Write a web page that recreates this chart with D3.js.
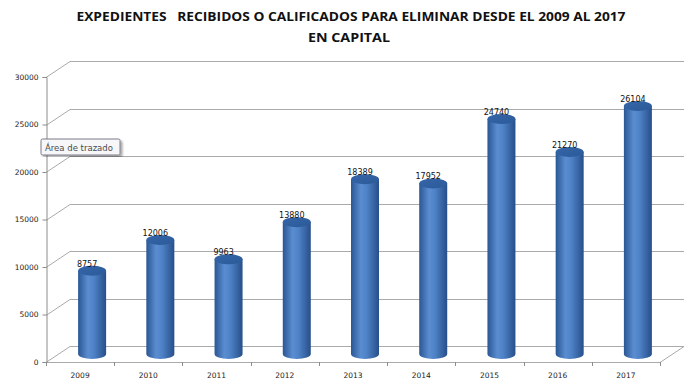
<!DOCTYPE html>
<html>
<head>
<meta charset="utf-8">
<script src="https://cdn.jsdelivr.net/npm/d3@7"></script>
<style>
  body { margin: 0; background: #fff; }
  svg { display: block; }
</style>
</head>
<body>
<div id="chart"></div>
<script>
// data
var years = ["2009", "2010", "2011", "2012", "2013", "2014", "2015", "2016", "2017"];
var values = [8757, 12006, 9963, 13880, 18389, 17952, 24740, 21270, 26104];
var yTicks = [0, 5000, 10000, 15000, 20000, 25000, 30000];
var titleLines = ["EXPEDIENTES   RECIBIDOS O CALIFICADOS PARA ELIMINAR DESDE EL 2009 AL 2017", "EN CAPITAL"];

var W = 700, H = 386;
var plotLeft = 46, plotRight = 660, plotTop = 77, plotBottom = 362;
// depth of the 3d box
var dx = 24, dy = -16;

var svg = d3.select("#chart").append("svg")
  .attr("width", W)
  .attr("height", H);

var defs = svg.append("defs");
var grad = defs.append("linearGradient").attr("id", "cyl")
  .attr("x1", "0").attr("x2", "1").attr("y1", "0").attr("y2", "0");
grad.append("stop").attr("offset", "0").attr("stop-color", "#2a5694");
grad.append("stop").attr("offset", "0.35").attr("stop-color", "#5a8dd0");
grad.append("stop").attr("offset", "0.55").attr("stop-color", "#4f83c8");
grad.append("stop").attr("offset", "1").attr("stop-color", "#274f8a");
var topGrad = defs.append("linearGradient").attr("id", "cyltop")
  .attr("x1", "0").attr("x2", "1").attr("y1", "0").attr("y2", "1");
topGrad.append("stop").attr("offset", "0").attr("stop-color", "#3566a8");
topGrad.append("stop").attr("offset", "1").attr("stop-color", "#2c5a99");
var shadow = defs.append("filter").attr("id", "shadow");
shadow.append("feDropShadow").attr("dx", 2).attr("dy", 2).attr("stdDeviation", 1.2)
  .attr("flood-color", "#000").attr("flood-opacity", 0.35);

// scales
var x = d3.scaleBand().domain(years).range([plotLeft, plotRight]).padding(0);
var y = d3.scaleLinear().domain([0, 30000]).range([plotBottom, plotTop]);

// title
svg.append("text")
  .attr("x", 351).attr("y", 21)
  .attr("text-anchor", "middle")
  .attr("textLength", 549).attr("lengthAdjust", "spacingAndGlyphs")
  .style("white-space", "pre")
  .style("font-family", "'Open Sans', sans-serif")
  .style("font-weight", "bold").style("font-size", "13px").style("fill", "#111")
  .text(titleLines[0]);
svg.append("text")
  .attr("x", 349).attr("y", 42)
  .attr("text-anchor", "middle")
  .attr("textLength", 82).attr("lengthAdjust", "spacingAndGlyphs")
  .style("font-family", "'Open Sans', sans-serif")
  .style("font-weight", "bold").style("font-size", "13px").style("fill", "#111")
  .text(titleLines[1]);

var grid = svg.append("g").attr("stroke", "#aaaaaa").attr("stroke-width", 1).attr("fill", "none");

// gridlines: left wall diagonal + back wall
yTicks.forEach(function(t) {
  var yy = Math.round(y(t)) + 0.5;
  grid.append("path")
    .attr("d", "M" + plotLeft + "," + yy + "L" + (plotLeft + dx) + "," + (yy + dy) + "L" + (plotRight + dx) + "," + (yy + dy));
});
// floor
grid.append("path")
  .attr("d", "M" + plotLeft + "," + (plotBottom + 0.5) + "L" + plotRight + "," + (plotBottom + 0.5) + "L" + (plotRight + dx) + "," + (plotBottom + 0.5 + dy));

// y axis
var yAxis = d3.axisLeft(y).tickValues(yTicks).tickSize(4).tickFormat(d3.format("d"));
var gy = svg.append("g").attr("transform", "translate(" + (plotLeft + 0.5) + ",0)").call(yAxis);
gy.select(".domain").attr("stroke", "#8c8c8c");
gy.selectAll(".tick line").attr("stroke", "#8c8c8c");
gy.selectAll("text").attr("x", -8)
  .style("font-family", "'DejaVu Sans', sans-serif").style("font-size", "7.5px").style("fill", "#222");

// x axis
var xAxis = d3.axisBottom(x).tickSize(0).tickPadding(10);
var gx = svg.append("g").attr("transform", "translate(0," + (plotBottom + 0.5) + ")").call(xAxis);
gx.select(".domain").remove();
gx.selectAll("text")
  .style("font-family", "'DejaVu Sans', sans-serif").style("font-size", "7.5px").style("fill", "#222");
// ticks between categories
var bounds = years.map(function(d) { return x(d); }).concat([plotRight]);
svg.append("g").selectAll("line").data(bounds).join("line")
  .attr("x1", function(d) { return Math.round(d) + 0.5; })
  .attr("x2", function(d) { return Math.round(d) + 0.5; })
  .attr("y1", plotBottom).attr("y2", plotBottom + 4)
  .attr("stroke", "#8c8c8c");

// cylinders
var cw = 28, ry = 5;
var bars = svg.append("g").selectAll("g").data(values).join("g");
bars.each(function(v, i) {
  var g = d3.select(this);
  var cx = x(years[i]) + x.bandwidth() / 2 + dx / 2;
  var yt = y(v) + dy / 2;
  var yb = y(0) + dy / 2;
  var rx = cw / 2;
  g.append("path")
    .attr("d", "M" + (cx - rx) + "," + yt +
      "L" + (cx - rx) + "," + yb +
      "A" + rx + "," + ry + " 0 0 0 " + (cx + rx) + "," + yb +
      "L" + (cx + rx) + "," + yt + "Z")
    .attr("fill", "url(#cyl)");
  g.append("ellipse")
    .attr("cx", cx).attr("cy", yt).attr("rx", rx).attr("ry", ry)
    .attr("fill", "url(#cyltop)");
});

// value labels
svg.append("g").selectAll("text").data(values).join("text")
  .attr("x", function(d, i) { return x(years[i]) + x.bandwidth() / 2 + 7; })
  .attr("y", function(d) { return y(d) - 12; })
  .attr("text-anchor", "middle")
  .style("font-family", "'DejaVu Sans', sans-serif").style("font-size", "8px").style("fill", "#111")
  .text(function(d) { return d; });

// tooltip box
var tip = svg.append("g").attr("transform", "translate(41,139)");
tip.append("rect").attr("width", 79).attr("height", 16).attr("rx", 1.5)
  .attr("fill", "#f7f7fa").attr("stroke", "#7a7a86").attr("filter", "url(#shadow)");
tip.append("text").attr("x", 4).attr("y", 11.5)
  .style("font-family", "'DejaVu Sans', sans-serif").style("font-size", "8.5px").style("fill", "#4a4a4a")
  .text("Área de trazado");
</script>
</body>
</html>
